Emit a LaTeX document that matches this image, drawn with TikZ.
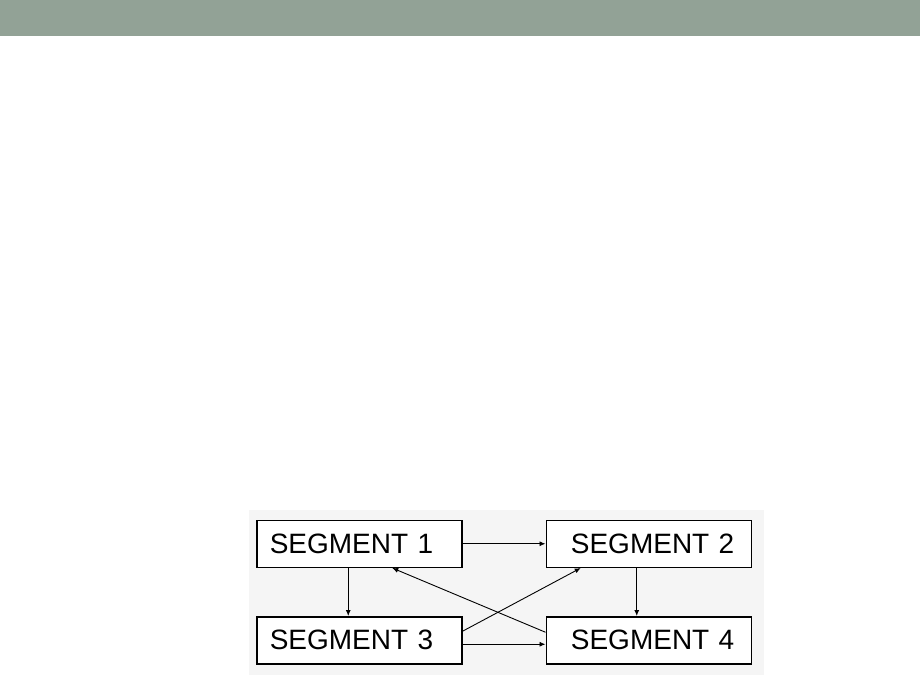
\documentclass[tikz,border=0pt]{standalone}
\usepackage{fontspec}
\setmainfont{Liberation Sans}
\usetikzlibrary{arrows.meta, matrix}

\definecolor{barcol}{RGB}{146,162,150}
\definecolor{panelcol}{RGB}{245,245,245}

\tikzset{
	segleft/.style={text width=179pt, inner xsep=13pt, align=left},
	segright/.style={text width=171pt, inner xsep=17pt, align=right},
	link/.style={line width=0.9pt, -{Latex[length=6pt, width=5pt]}}
}

\begin{document}
\begin{tikzpicture} [x=1pt, y=-1pt,
	nodes={minimum height=47pt, font=\fontsize{28}{30}\selectfont},
	row sep=48pt, column sep=83pt]
	\useasboundingbox (0,0) rectangle (920,690);
	
	\fill[barcol] (0,0) rectangle (920,36);
	\fill[panelcol] (249,510) rectangle (764,675);
	
	\matrix(seg)[matrix of nodes, ampersand replacement=\&,
	nodes={draw, line width=1.5pt, fill=white}] at (504,592)
	{ % boxes
		|[segleft]| SEGMENT 1 \& |[segright]| SEGMENT 2\\
		|[segleft]| SEGMENT 3 \& |[segright]| SEGMENT 4\\
	};
	
	\draw[link] (seg-1-1.east) -- (seg-1-2.west);
	\draw[link] ([xshift=-11pt]seg-1-1.south) -- ([xshift=-11pt]seg-2-1.north);
	\draw[link] ([xshift=-12pt]seg-1-2.south) -- ([xshift=-12pt]seg-2-2.north);
	\draw[link] ([yshift=-4pt]seg-2-1.east) -- ([yshift=-4pt]seg-2-2.west);
	\draw[link] ([yshift=9pt]seg-2-1.east) -- ([xshift=-68pt]seg-1-2.south);
	\draw[link] ([yshift=8pt]seg-2-2.west) -- ([xshift=33pt]seg-1-1.south);
	
\end{tikzpicture}
\end{document}
